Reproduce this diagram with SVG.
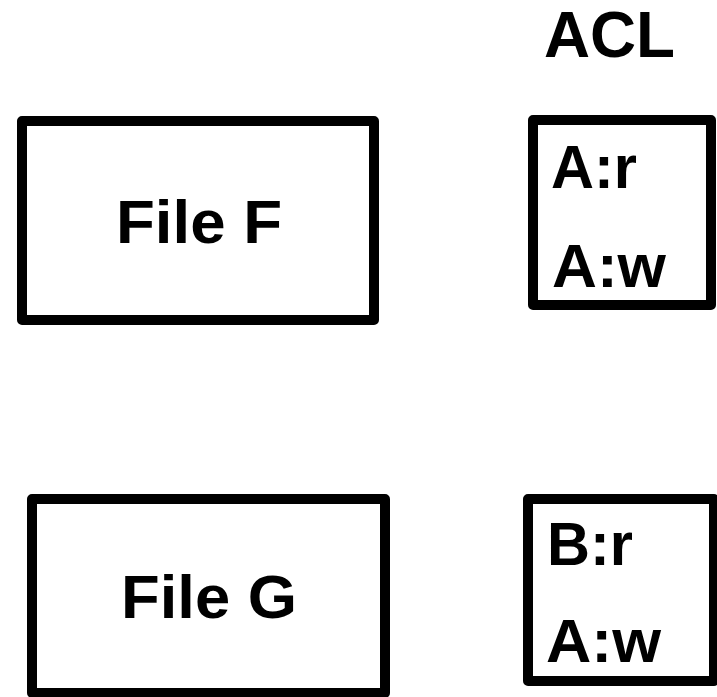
<svg xmlns="http://www.w3.org/2000/svg" width="717" height="697" viewBox="0 0 717 697">
  <style>
    .box { fill: #fff; stroke: #000; stroke-width: 10; stroke-linejoin: round; }
    .lbl { font-family: "Liberation Sans", Arial, sans-serif; font-weight: bold; font-size: 61px; fill: #000; }
    .title { font-size: 64px; }
  </style>
  <rect width="717" height="697" fill="#fff"/>
  <text class="lbl title" x="544" y="57" textLength="131" lengthAdjust="spacingAndGlyphs">ACL</text>
  <g id="fileF">
    <rect class="box" x="22" y="121" width="352" height="199"/>
    <text class="lbl" x="116" y="243" textLength="166" lengthAdjust="spacingAndGlyphs">File F</text>
  </g>
  <g id="aclF">
    <rect class="box" x="533" y="120" width="178" height="185"/>
    <text class="lbl" x="551" y="188" textLength="86" lengthAdjust="spacingAndGlyphs">A:r</text>
    <text class="lbl" x="552" y="287" textLength="114" lengthAdjust="spacingAndGlyphs">A:w</text>
  </g>
  <g id="fileG">
    <rect class="box" x="32" y="499" width="353" height="194"/>
    <text class="lbl" x="121" y="618" textLength="176" lengthAdjust="spacingAndGlyphs">File G</text>
  </g>
  <g id="aclG">
    <rect class="box" x="528" y="499" width="186" height="182"/>
    <text class="lbl" x="547" y="565" textLength="86" lengthAdjust="spacingAndGlyphs">B:r</text>
    <text class="lbl" x="546" y="662" textLength="115" lengthAdjust="spacingAndGlyphs">A:w</text>
  </g>
  <g id="connectors"/>
</svg>
